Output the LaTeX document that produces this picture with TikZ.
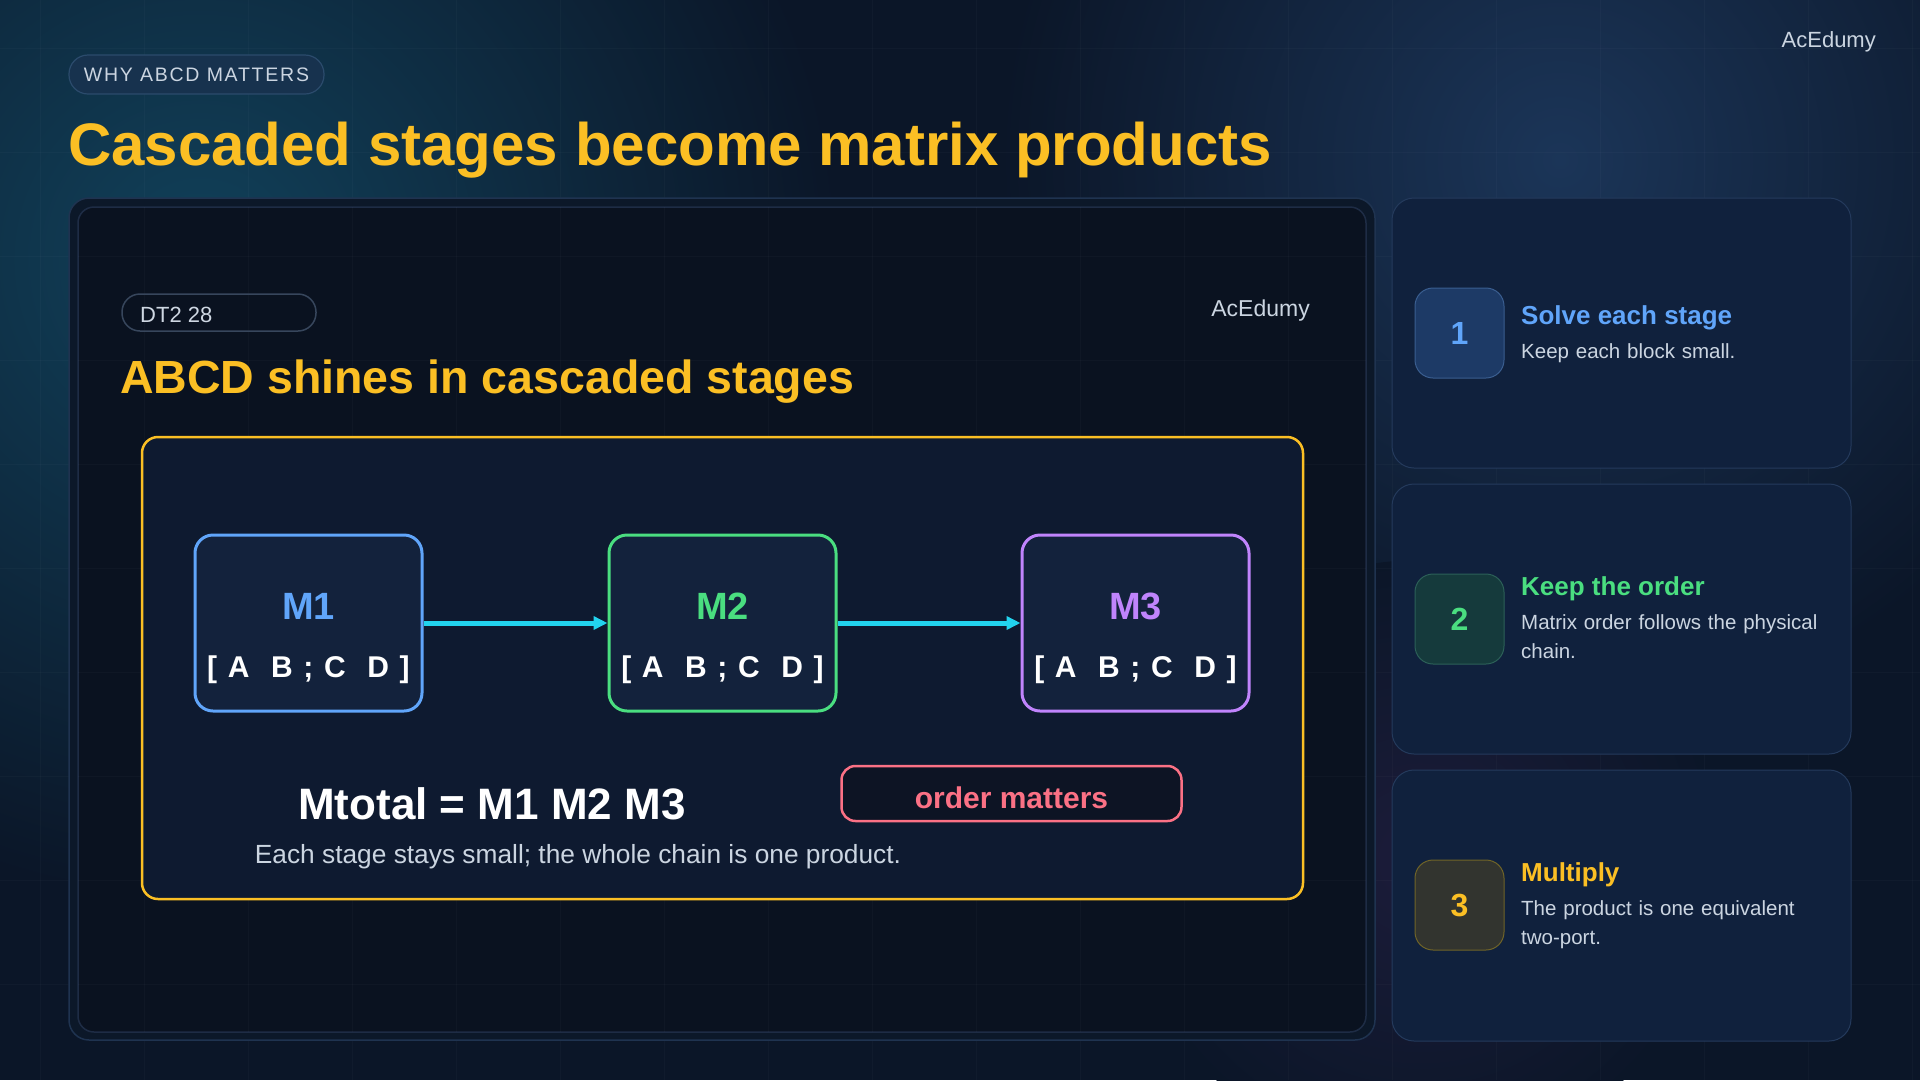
\documentclass[tikz,border=0pt]{standalone}
\usepackage{fontspec}
\setmainfont{Liberation Sans}
\newfontfamily\spacedfont[LetterSpace=8]{Liberation Sans}
\newfontfamily\pillfont[LetterSpace=9]{Liberation Sans}
\usetikzlibrary{arrows.meta}
\definecolor{bg}{HTML}{0B1628}
\definecolor{glowteal}{HTML}{11415A}
\definecolor{glowblue}{HTML}{1B3558}
\definecolor{glowpink}{HTML}{1C1C3A}
\definecolor{gold}{HTML}{FBBF24}
\definecolor{light}{HTML}{CBD5E1}
\definecolor{panelA}{HTML}{0C1829}
\definecolor{panelAline}{HTML}{1F3350}
\definecolor{panelB}{HTML}{0A1220}
\definecolor{panelBline}{HTML}{1E2C45}
\definecolor{dtline}{HTML}{37465C}
\definecolor{framefill}{HTML}{0E1A30}
\definecolor{boxfill}{HTML}{13223C}
\definecolor{mblue}{HTML}{60A5FA}
\definecolor{mgreen}{HTML}{4ADE80}
\definecolor{mpurple}{HTML}{C084FC}
\definecolor{cyanc}{HTML}{22D3EE}
\definecolor{pinkc}{HTML}{FB7185}
\definecolor{pillfill}{HTML}{0D1424}
\definecolor{cardfill}{HTML}{10213D}
\definecolor{cardline}{HTML}{243A5C}
\definecolor{nb1}{HTML}{1D3A66}\definecolor{nb1l}{HTML}{3A5E90}
\definecolor{nb2}{HTML}{153A3C}\definecolor{nb2l}{HTML}{2C6058}
\definecolor{nb3}{HTML}{32342F}\definecolor{nb3l}{HTML}{706428}
\definecolor{tagfill}{HTML}{17324E}
\definecolor{tagline}{HTML}{2B4B6C}
\tikzset{
  mbox/.style={draw=#1, line width=3, fill=boxfill, rounded corners=18, minimum width=227, minimum height=176},
  mlabel/.style={text=#1, font=\fontsize{38}{44}\selectfont\bfseries},
  mat/.style={text=white, font=\fontsize{30}{36}\spacedfont\bfseries},
  flow/.style={draw=cyanc, line width=5, -{Triangle[length=14,width=13]}},
  card/.style={draw=cardline, line width=1, fill=cardfill, rounded corners=22},
  numbox/.style={rounded corners=18, minimum width=89, minimum height=90, line width=1, font=\fontsize{32}{38}\selectfont\bfseries},
  ctitle/.style={anchor=west, inner sep=0, font=\fontsize{26}{31}\selectfont\bfseries},
  cdesc/.style={anchor=north west, inner sep=0, text=light, align=left, text width=300, font=\fontsize{20.5}{29.5}\selectfont},
}
\begin{document}
\begin{tikzpicture}[x=1pt,y=-1pt]
\useasboundingbox (0,0) rectangle (1920,1080);
\begin{scope}
\clip (0,0) rectangle (1920,1080);
\fill[bg] (0,0) rectangle (1920,1080);
\shade[inner color=glowteal, outer color=bg] (200,260) circle (640);
\shade[inner color=glowblue, outer color=bg] (1560,160) circle (560);
\shade[inner color=glowpink, outer color=bg] (1420,860) circle (300);
\foreach \y in {48,152,...,1080} \draw[white, opacity=0.022, line width=1] (0,\y) -- (1920,\y);
\foreach \x in {40,144,...,1920} \draw[white, opacity=0.022, line width=1] (\x,0) -- (\x,1080);
\end{scope}

% header
\node[draw=tagline, fill=tagfill, rounded corners=19, minimum width=255, minimum height=39, line width=1.2,
      text=light, font=\fontsize{19.5}{23}\pillfont] (tag) at (196.5,74.5) {WHY ABCD MATTERS};
\node[anchor=west, inner sep=0, text=gold, font=\fontsize{60}{70}\selectfont\bfseries] (title) at (68,150) {Cascaded stages become matrix products};
\node[anchor=east, inner sep=0, text=light, font=\fontsize{22}{26}\selectfont] (brand) at (1876,42) {AcEdumy};

% left panel
\draw[draw=panelAline, fill=panelA, line width=1.5, rounded corners=20] (69,198) rectangle (1375,1040);
\draw[draw=panelBline, fill=panelB, line width=1.5, rounded corners=16] (78,207) rectangle (1366,1032);
\begin{scope}
\clip[rounded corners=16] (78,207) rectangle (1366,1032);
\foreach \y in {256,360,...,1032} \draw[white, opacity=0.025, line width=1] (78,\y) -- (1366,\y);
\foreach \x in {144,248,...,1366} \draw[white, opacity=0.025, line width=1] (\x,207) -- (\x,1032);
\end{scope}
\node[draw=dtline, rounded corners=18, minimum width=194, minimum height=37, line width=1.5] (dt) at (219,312.5) {};
\node[anchor=west, inner sep=0, text=light!95, font=\fontsize{22}{26}\selectfont] (dtt) at (140,314.5) {DT2 28};
\node[anchor=east, inner sep=0, text=light, font=\fontsize{23}{27}\selectfont] (brand2) at (1310,311) {AcEdumy};
\node[anchor=west, inner sep=0, text=gold, font=\fontsize{46.5}{54}\selectfont\bfseries] (sub) at (120,382) {ABCD shines in cascaded stages};

\draw[draw=gold, fill=framefill, line width=2.5, rounded corners=16] (142,437) rectangle (1303,899);

\node[mbox=mblue] (m1) at (308.5,623) {};
\node[mbox=mgreen] (m2) at (722.5,623) {};
\node[mbox=mpurple] (m3) at (1135.5,623) {};
\foreach \n/\c/\t in {m1/mblue/M1, m2/mgreen/M2, m3/mpurple/M3}{
  \node[mlabel=\c] at ([yshift=17]\n.center) {\t};
  \node[mat] at ([yshift=-47]\n.center) {[ A\ \ B ; C\ \ D ]};
}
\draw[flow] (m1.east) -- (m2.west);
\draw[flow] (m2.east) -- (m3.west);

\node[text=white, font=\fontsize{44}{52}\selectfont\bfseries] (eq) at (492,804) {Mtotal = M1 M2 M3};
\node[draw=pinkc, fill=pillfill, line width=2.5, rounded corners=14, minimum width=340, minimum height=55,
      text height=29.5, text depth=0, text=pinkc, font=\fontsize{30}{36}\selectfont\bfseries] (om) at (1011.5,793.5) {order matters};
\node[text=light, font=\fontsize{26.3}{31}\selectfont] (note) at (578,857) {Each stage stays small; the whole chain is one product.};

% right cards
\draw[card] (1392,198) rectangle (1851,468);
\draw[card] (1392,484) rectangle (1851,754);
\draw[card] (1392,770) rectangle (1851,1041);

\node[numbox, draw=nb1l, fill=nb1, text=mblue] (n1) at (1459.5,333) {1};
\node[ctitle, text=mblue] (t1) at (1521,318) {Solve each stage};
\node[cdesc] (d1) at (1521,343) {Keep each block small.};

\node[numbox, draw=nb2l, fill=nb2, text=mgreen] (n2) at (1459.5,619) {2};
\node[ctitle, text=mgreen] (t2) at (1521,589) {Keep the order};
\node[cdesc] (d2) at (1521,614) {Matrix order follows the physical chain.};

\node[numbox, draw=nb3l, fill=nb3, text=gold] (n3) at (1459.5,905) {3};
\node[ctitle, text=gold] (t3) at (1521,875) {Multiply};
\node[cdesc] (d3) at (1521,900) {The product is one equivalent two-port.};
\end{tikzpicture}
\end{document}
